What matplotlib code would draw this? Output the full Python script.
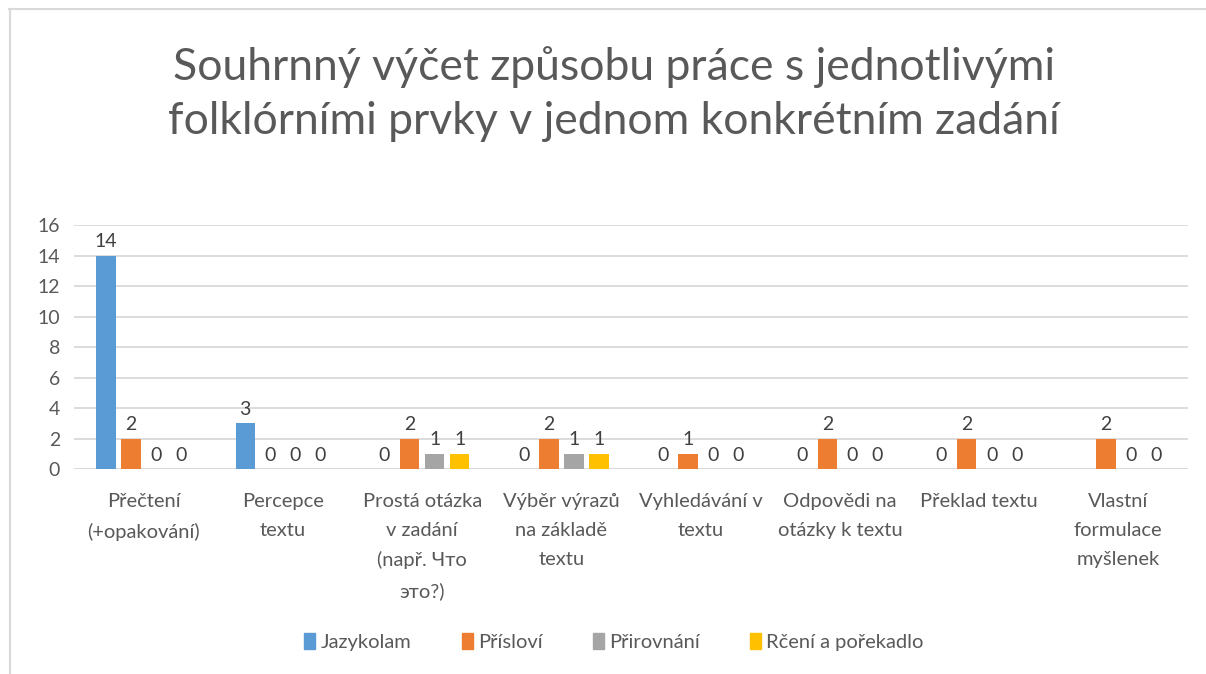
import matplotlib.pyplot as plt
from matplotlib.lines import Line2D
from matplotlib.patches import Patch
import numpy as np

categories = [
    "Přečtení\n(+opakování)",
    "Percepce\ntextu",
    "Prostá otázka\nv zadání\n(např. Что\nэто?)",
    "Výběr výrazů\nna základě\ntextu",
    "Vyhledávání v\ntextu",
    "Odpovědi na\notázky k textu",
    "Překlad textu",
    "Vlastní\nformulace\nmyšlenek",
]
series_names = ["Jazykolam", "Přísloví", "Přirovnání", "Rčení a pořekadlo"]
jazykolam = [14, 3, 0, 0, 0, 0, 0, None]
prislovi = [2, 0, 2, 2, 1, 2, 2, 2]
prirovnani = [0, 0, 1, 1, 0, 0, 0, 0]
rceni = [0, 0, 1, 1, 0, 0, 0, 0]
y_ticks = [0, 2, 4, 6, 8, 10, 12, 14, 16]

series = [jazykolam, prislovi, prirovnani, rceni]
colors = ["#5B9BD5", "#ED7D31", "#A5A5A5", "#FFC000"]
txt = "#595959"

plt.rcParams['font.family'] = ['Lato', 'DejaVu Sans']

fig = plt.figure(figsize=(12.06, 6.74), dpi=100)
ax = fig.add_axes([0.0614, 0.304, 0.9236, 0.362])

x = np.arange(len(categories))
step = 0.18
width = 0.14
for i, (vals, col) in enumerate(zip(series, colors)):
    pos = x + (i - 1.5) * step
    h = [np.nan if v is None else v for v in vals]
    ax.bar(pos, h, width=width, color=col, zorder=3)
    for p, v in zip(pos, vals):
        if v is None:
            continue
        ax.annotate(str(v), (p, v), xytext=(0, 4), textcoords="offset points",
                    ha="center", va="bottom", fontsize=14, color="#404040")

ax.set_xlim(-0.5, len(categories) - 0.5)
ax.set_ylim(0, 16)
ax.set_yticks(y_ticks)
ax.grid(axis="y", color="#D9D9D9", linewidth=1.3, zorder=0)
for s in ax.spines.values():
    s.set_visible(False)
ax.axhline(0, color="#D9D9D9", linewidth=1.3, zorder=1)
ax.tick_params(axis="y", length=0, labelsize=14, labelcolor=txt, pad=10)
ax.set_xticks(x)
ax.set_xticklabels(categories, fontsize=14.5, color=txt, linespacing=1.85)
ax.tick_params(axis="x", length=0, pad=17)

fig.text(0.509, 0.860, "Souhrnný výčet způsobu práce s jednotlivými\nfolklórními prvky v jednom konkrétním zadání",
         ha="center", va="center", fontsize=32, color=txt, linespacing=1.4)

handles = [Patch(color=c) for c in colors]
fig.legend(handles, series_names, loc="center", bbox_to_anchor=(0.509, 0.047),
           ncol=4, frameon=False, fontsize=14.5, labelcolor=txt,
           handlelength=0.55, handleheight=0.8, handletextpad=0.25, columnspacing=2.5)

fig.add_artist(Line2D([9 / 1206, 1], [1 - 9 / 674] * 2, color="#D9D9D9", linewidth=1.5))
fig.add_artist(Line2D([9.5 / 1206] * 2, [0, 1 - 9 / 674], color="#D9D9D9", linewidth=1.5))

fig.savefig("out.png", dpi=100, facecolor="white")
